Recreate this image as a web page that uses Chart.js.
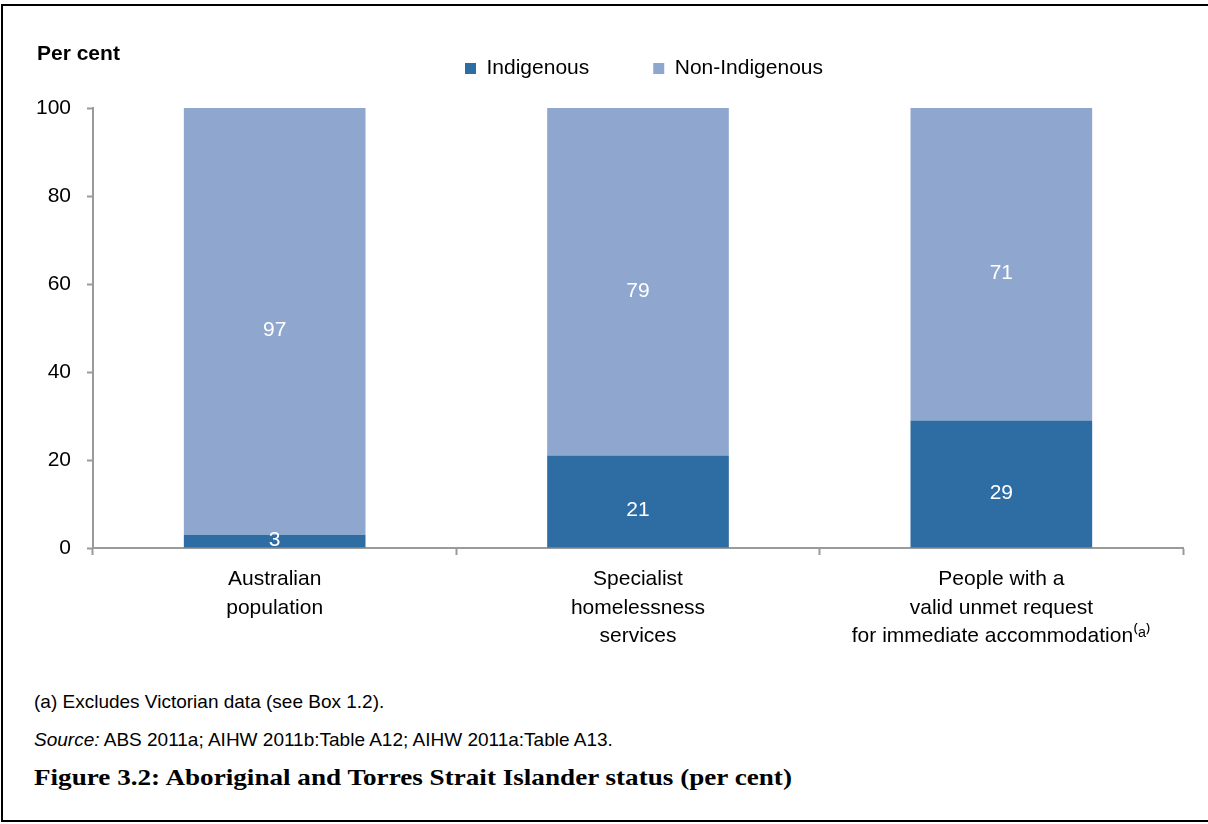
<!DOCTYPE html>
<html lang="en">
  <head>
    <meta charset="UTF-8" />
    <title>Figure 3.2</title>
    <script src="https://cdn.jsdelivr.net/npm/chart.js@4.4.0/dist/chart.umd.min.js"></script>
    <style>
      html, body { margin: 0; padding: 0; background: #fff; overflow: hidden; }
      body {
        width: 1208px; height: 824px; position: relative;
        font-family: "Liberation Sans", Arial, sans-serif; color: #000;
      }
      .frame {
        position: absolute; left: 1px; top: 4px; width: 1207px; height: 818px;
        border: 2px solid #000; border-right: none; box-sizing: border-box;
      }
      #chartBox { position: absolute; left: 0; top: 0; }
      .ylabel { position: absolute; left: 37px; top: 42px; font-size: 21px; line-height: 21px; font-weight: bold; }
      .note { position: absolute; left: 34px; font-size: 19px; line-height: 19px; white-space: nowrap; }
      .title {
        position: absolute; left: 34px; top: 766px; font-size: 23px; line-height: 23px;
        font-family: "Liberation Serif", "Times New Roman", serif; font-weight: bold; white-space: nowrap;
        transform: scaleX(1.18); transform-origin: left center;
      }
    </style>
  </head>
  <body>
    <div class="frame"></div>
    <canvas id="chartBox" width="1208" height="660"></canvas>
    <div class="ylabel">Per cent</div>
    <div class="note" style="top: 692px">(a) Excludes Victorian data (see Box 1.2).</div>
    <div class="note" style="top: 730px"><i>Source:</i> ABS 2011a; AIHW 2011b:Table A12; AIHW 2011a:Table A13.</div>
    <div class="title">Figure 3.2: Aboriginal and Torres Strait Islander status (per cent)</div>

    <script>
      const categories = [
        ['Australian', 'population'],
        ['Specialist', 'homelessness', 'services'],
        ['People with a', 'valid unmet request', 'for immediate accommodation\u207D\u1D43\u207E'],
      ]
      const indigenous = [3, 21, 29]
      const nonIndigenous = [97, 79, 71]
      const yTicks = [0, 20, 40, 60, 80, 100]

      const COLORS = {
        indigenous: '#2e6ca4',
        nonIndigenous: '#8fa7cf',
        axis: '#9a9a9a',
      }

      const FONT = '"Liberation Sans", Arial, sans-serif'
      Chart.defaults.font.family = FONT
      Chart.defaults.color = '#000'

      // white value labels in the middle of each stacked piece
      const segmentLabels = {
        id: 'segmentLabels',
        afterDatasetsDraw(chart) {
          const ctx = chart.ctx
          ctx.save()
          ctx.fillStyle = '#fff'
          ctx.font = '21px ' + FONT
          ctx.textAlign = 'center'
          ctx.textBaseline = 'middle'
          chart.data.datasets.forEach((ds, i) => {
            chart.getDatasetMeta(i).data.forEach((bar, j) => {
              const { x, y, base } = bar.getProps(['x', 'y', 'base'], true)
              const yy = Math.min((y + base) / 2 + 9, base - 7)
              ctx.fillText(ds.data[j], x, yy)
            })
          })
          ctx.restore()
        },
      }

      // move the legend row to where the original has it
      const legendNudge = {
        id: 'legendNudge',
        afterLayout(chart) {
          const lg = chart.legend
          if (!lg) return
          lg.left += 6
          lg.right += 6
          lg.top -= 19
          lg.bottom -= 19
        },
      }

      new Chart(document.getElementById('chartBox').getContext('2d'), {
        type: 'bar',
        data: {
          labels: categories,
          datasets: [
            { label: 'Indigenous', data: indigenous, backgroundColor: COLORS.indigenous },
            { label: 'Non-Indigenous', data: nonIndigenous, backgroundColor: COLORS.nonIndigenous },
          ],
        },
        options: {
          responsive: false,
          animation: false,
          layout: { padding: { left: 0, top: 13, right: 25, bottom: 0 } },
          datasets: { bar: { categoryPercentage: 1, barPercentage: 0.5 } },
          plugins: {
            legend: {
              position: 'top',
              fullSize: false,
              labels: { boxWidth: 11, boxHeight: 11, padding: 64, color: '#000', font: { size: 21 } },
            },
            tooltip: { enabled: false },
          },
          scales: {
            x: {
              stacked: true,
              grid: {
                display: true, drawOnChartArea: false, drawTicks: true, offset: true,
                tickLength: 7, tickWidth: 2, color: COLORS.axis, tickColor: COLORS.axis,
              },
              border: { display: true, color: COLORS.axis, width: 2 },
              ticks: {
                color: '#000', font: { size: 21, lineHeight: 1.36 }, padding: 10,
                maxRotation: 0, autoSkip: false,
              },
              afterFit(scale) { scale.height = 112 },
            },
            y: {
              stacked: true,
              min: 0,
              max: 100,
              grid: {
                display: true, drawOnChartArea: false, drawTicks: true,
                tickLength: 6, tickWidth: 2, color: COLORS.axis, tickColor: COLORS.axis,
              },
              border: { display: true, color: COLORS.axis, width: 2 },
              ticks: { color: '#000', font: { size: 21 }, padding: 16 },
              afterBuildTicks(scale) { scale.ticks = yTicks.map((v) => ({ value: v })) },
              afterFit(scale) { scale.width = 93 },
            },
          },
        },
        plugins: [segmentLabels, legendNudge],
      })
    </script>
  </body>
</html>
